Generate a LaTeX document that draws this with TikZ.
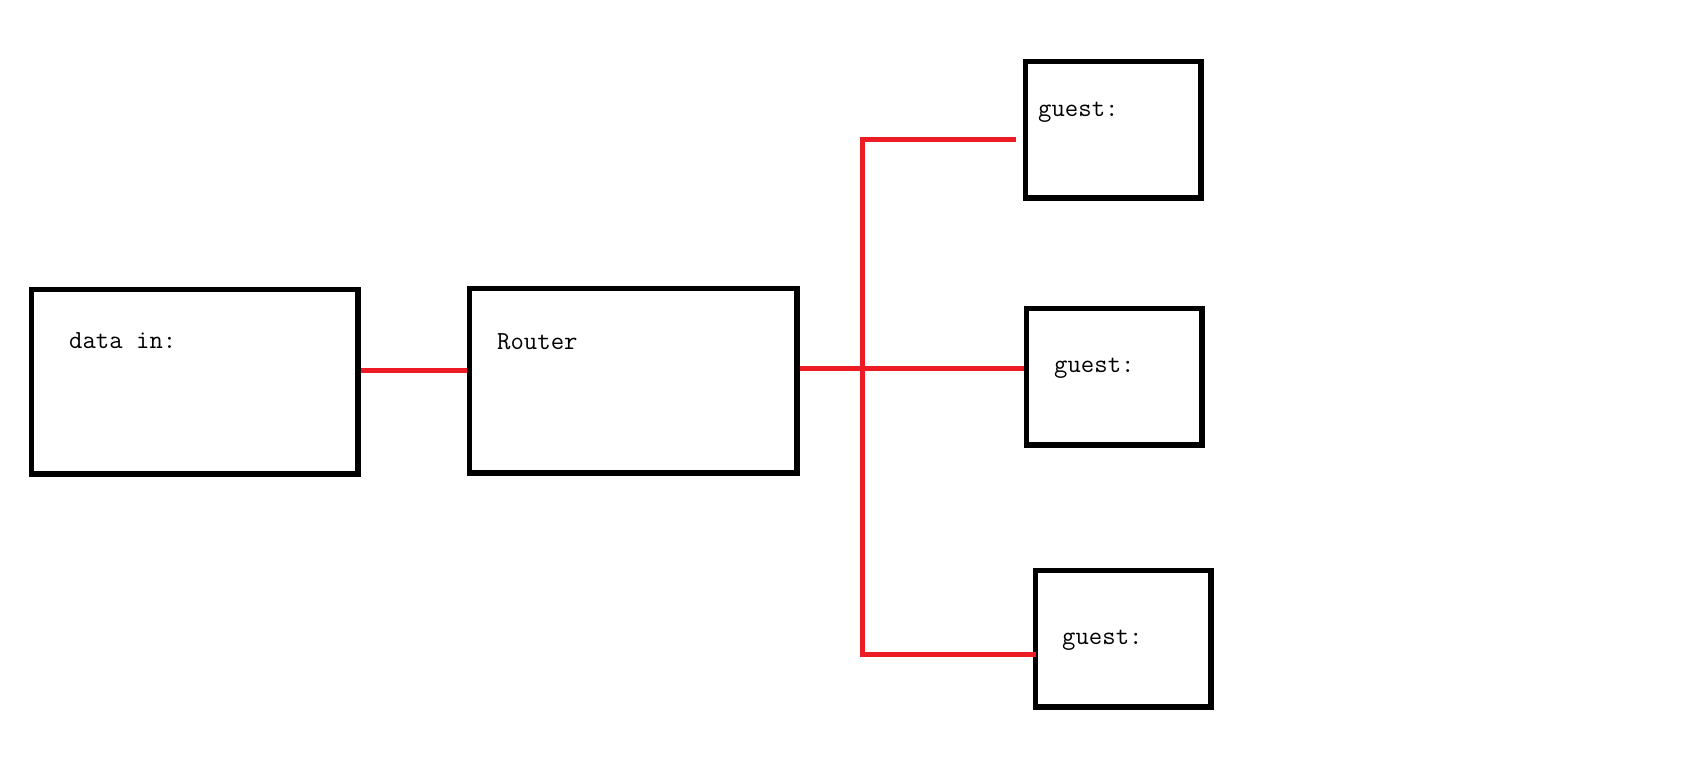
\documentclass[tikz,border=0pt]{standalone}
\usepackage{fontspec}
\definecolor{wirered}{HTML}{ED1C24}
\begin{document}
\begin{tikzpicture}[x=1pt,y=-1pt,
  box/.style={draw=black,line width=5.5pt,inner sep=0pt,fill=none},
  lbl/.style={font=\ttfamily\fontsize{26}{30}\selectfont,inner sep=0pt,anchor=mid west},
  wire/.style={draw=wirered,line width=5pt}]
\useasboundingbox (0,0) rectangle (1690,764);
\node[box,minimum width=326.5pt,minimum height=184.5pt] (in) at (194.5,381.5) {};
\node[box,minimum width=327.5pt,minimum height=184.5pt] (router) at (633,380.5) {};
\node[box,minimum width=175.5pt,minimum height=136.5pt] (g1) at (1113,129.5) {};
\node[box,minimum width=175.5pt,minimum height=136.5pt] (g2) at (1114,376.5) {};
\node[box,minimum width=175.5pt,minimum height=136.5pt] (g3) at (1123,638.5) {};
\node[lbl] (tin) at (69,346) {data in:};
\node[lbl] (tr) at (497,347) {Router};
\node[lbl] (t1) at (1038,114) {guest:};
\node[lbl] (t2) at (1054,370) {guest:};
\node[lbl] (t3) at (1062,642) {guest:};
\coordinate (ya) at (0,370);
\coordinate (yb) at (0,368);
\coordinate (jt) at (862,139);
\coordinate (jb) at (862,654);
\coordinate (e1) at (1016,139);
\coordinate (e3) at (1036,654);
\draw[wire] (in.east |- ya) -- (router.west |- ya);
\draw[wire] (router.east |- yb) -- (g2.west |- yb);
\draw[wire] (e1) -- (jt) -- (jb) -- (e3);
\end{tikzpicture}
\end{document}
